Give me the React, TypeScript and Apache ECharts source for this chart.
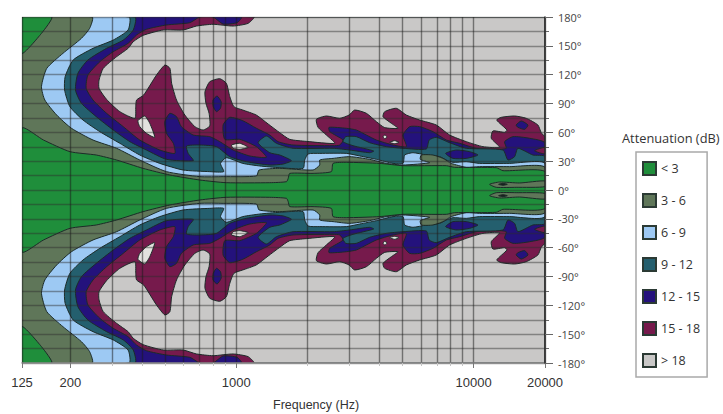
import React, { useEffect, useRef } from "react";
import * as echarts from "echarts";

type Pt = number[];

// Frequency ticks (Hz), angle range and band names
const freqLines = [125, 200, 300, 400, 500, 600, 700, 800, 900, 1000, 2000, 3000, 4000, 5000, 6000, 7000, 8000, 9000, 10000, 20000];
const freqLabels = [125, 200, 1000, 10000, 20000];
const legendOrder = ["< 3", "3 - 6", "6 - 9", "9 - 12", "12 - 15", "15 - 18", "> 18"];

// Contour edges of the upper half [Hz, degrees]; the pattern is mirrored about 0 degrees.
const plotFrame: Pt[] = [[125, 180], [20000, 180], [20000, -180], [125, -180]];

const edge18: Pt[] = [[125, 180], [1186, 180], [1122, 173.4], [970, 170.6], [798, 172.4], [680, 170.6], [597, 166.5], [492, 166.5], [405, 160.9], [368, 154.3], [350, 147.4], [313, 138.7], [275, 126.6], [264, 114.4], [264, 105.8], [284, 94.3], [323, 81.5], [374, 74.6], [377, 86.7], [380, 93.6], [407, 98.8], [461, 119.6], [500, 130], [525, 126.6], [534, 111], [560, 93.6], [607, 78], [669, 65.9], [725, 62.4], [773, 66.6], [768, 79.8], [745, 90.2], [738, 102.3], [773, 112.7], [852, 115.8], [908, 111], [939, 97.1], [977, 86.7], [1065, 83.2], [1214, 78], [1362, 68.7], [1525, 59.6], [1680, 52.7], [1975, 50.6], [2600, 48.6], [2397, 57.2], [2212, 65.2], [2175, 73.5], [2397, 77], [2729, 74.6], [2987, 78], [3155, 83.2], [3533, 79.8], [3894, 71.1], [4221, 64.9], [4803, 64.2], [4503, 69.4], [4153, 76.3], [4221, 81.5], [4727, 85], [5208, 78], [5926, 72.8], [6966, 67.6], [7927, 57.2], [9319, 50.3], [10952, 45.1], [12874, 44.4], [11874, 53.8], [12067, 61.4], [13514, 60], [13820, 62.4], [12520, 72.8], [13084, 75.6], [14889, 77], [16673, 74.6], [18666, 67.6], [19283, 59.6], [20000, 54.8]];

const edge15: Pt[] = [[125, 180], [1051, 180], [1008, 174.1], [880, 172.7], [798, 180], [702, 180], [637, 174.1], [508, 171.7], [418, 167.2], [380, 161.3], [350, 152.6], [303, 143.9], [266, 133.5], [237, 119.6], [233, 105.8], [249, 93.6], [284, 79.8], [334, 65.9], [392, 52], [476, 41.6], [551, 38.1], [543, 48.6], [508, 59], [500, 71.1], [525, 79.8], [560, 76.3], [587, 65.9], [659, 57.2], [773, 55.5], [852, 50.3], [970, 41.6], [1140, 35.4], [1340, 34], [1216, 45.1], [1034, 52.7], [895, 52.7], [880, 67.6], [939, 75.6], [1065, 72.1], [1216, 64.2], [1384, 57.2], [1500, 50.3], [1735, 46.8], [2557, 46.1], [2729, 46.8], [2818, 52], [2476, 60.7], [2460, 65.2], [2911, 64.2], [3207, 62.4], [3533, 57.2], [3894, 52], [4576, 46.8], [5208, 45.1], [5042, 57.2], [5379, 65.9], [5926, 65.9], [6744, 60.7], [7676, 52], [8735, 48.6], [10267, 43.4], [12465, 42.3], [13734, 43.4], [13514, 50.3], [14650, 55.5], [17220, 53.8], [20000, 48.6]];

const edge12: Pt[] = [[125, 180], [374, 180], [368, 166.5], [334, 156], [284, 147.4], [237, 135.3], [215, 121.4], [210, 104], [222.5, 90.2], [257, 76.3], [303, 62.4], [356, 50.3], [418, 41.6], [508, 31.9], [659, 30.5], [627, 38.1], [617, 45.8], [702, 46.8], [825, 45.1], [939, 34.7], [1103, 29.5], [1384, 26], [1575, 27], [1707, 30.5], [1525, 36.4], [1384, 38.8], [1236, 49.2], [1340, 56.2], [1476, 48.6], [1735, 43.4], [2557, 43.4], [3006, 41.6], [3650, 38.8], [3793, 40.6], [3106, 46.1], [2818, 50.3], [2892, 55.5], [3207, 55.5], [3650, 49.2], [4290, 45.1], [5042, 43.4], [6323, 42.7], [6500, 52], [6966, 54.8], [7927, 49.2], [9319, 43.4], [13300, 41.6], [13955, 31.2], [14889, 34.7], [15379, 43.4], [17789, 36.4], [20000, 34.7]];

const edge9: Pt[] = [[125, 180], [353, 180], [350, 166.5], [303, 156], [249, 147.4], [205.5, 135.3], [190, 117.9], [189, 104], [199, 86.7], [226, 72.8], [266, 60.7], [323, 48.6], [392, 36.4], [476, 27.7], [597, 20.8], [773, 19.1], [885, 19.1], [858, 27.7], [908, 33.6], [1065, 27.7], [1256, 25], [1525, 23.2], [1912, 22.5], [1943, 31.2], [2008, 37.5], [2248, 38.1], [2911, 38.1], [3312, 35.4], [3894, 31.9], [4576, 27.7], [5042, 27.7], [5125, 36.4], [5555, 38.8], [6323, 36.4], [7195, 34.7], [7676, 31.2], [8187, 28.8], [9319, 29.5], [10604, 27.7], [14184, 27.7], [20000, 27.7]];

const edge6: Pt[] = [[125, 180], [247, 180], [241, 168.2], [222.5, 157.8], [186, 142.2], [159, 126.6], [151, 107.5], [156, 93.6], [175, 78], [202, 64.2], [249, 52], [313, 43.4], [392, 31.2], [508, 19.1], [702, 13.9], [880, 13.9], [1216, 14.6], [1248, 20.8], [1525, 22.5], [2107, 20.8], [2248, 26], [2248, 31.2], [2557, 32.9], [3006, 34.7], [3650, 31.9], [4290, 27.7], [5042, 26], [6530, 28.4], [5965, 31.9], [6024, 36.4], [6744, 36.4], [7430, 32.9], [8057, 27.7], [9319, 23.6], [10604, 24.3], [14184, 24.3], [20000, 23.6]];

const edge3: Pt[] = [[125, 64.2], [154, 52], [199, 39.9], [257, 36.4], [313, 31.2], [405, 22.5], [525, 15.6], [702, 10.4], [908, 7.6], [1384, 7.6], [1628, 8.7], [1655, 12.1], [1680, 17.3], [2107, 17.3], [2516, 19.1], [2557, 27.7], [2911, 28.8], [4021, 27.7], [5042, 25.3], [7676, 25.3], [8321, 23.6], [12465, 23.2], [13300, 20.1], [20000, 19.1]];

const greenCorner: Pt[] = [[125, 180], [167, 180], [151, 163], [125, 142.2]];

const indigoInCrimsonA: Pt[] = [[798, 93.6], [830, 97.8], [863, 91.9], [858, 85], [825, 81.5], [800, 86.7]];
const indigoInCrimsonB: Pt[] = [[15121, 67.6], [15884, 71.8], [16950, 67.6], [16420, 63.1], [15379, 65.2]];
const indigoInTeal: Pt[] = [[7625, 38.1], [8455, 41.6], [9624, 39.9], [10434, 36.4], [9319, 32.9], [8187, 32.9]];
const crimsonPatch: Pt[] = [[18080, 40.9], [20000, 44.4], [20000, 37.5]];
const holeA: Pt[] = [[385, 72.1], [411, 77], [432, 69.4], [453, 54.8], [418, 59], [392, 65.9]];
const holeB: Pt[] = [[955, 46.8], [1034, 48.6], [1122, 44.4], [1034, 42.3], [970, 43.4]];
const holeC: Pt[] = [[4153, 55.5], [4232, 57.2], [4316, 55.1], [4221, 53.4]];
const holeD: Pt[] = [[4431, 49.6], [4651, 51.3], [4850, 49.6], [4651, 48.2]];
const oliveSliver: Pt[] = [[11684, 5.9], [12874, 8.3], [15629, 7.3], [20000, 9.4], [20000, 3.5], [15121, 2.8], [12465, 2.8]];
const darkDot: Pt[] = [[12750, 5.9], [13300, 6.9], [13870, 5.9], [13300, 4.9]];

const closeBand = (upper: Pt[]): Pt[] => [...upper, ...[...upper].reverse().map(([f, a]) => [f, -a])];
const both = (poly: Pt[]): Pt[][] => [poly, poly.map(([f, a]) => [f, -a])];

const GREEN = "#1f8e3b";
const OLIVE = "#5f7659";
const BLUE = "#9dc9f3";
const TEAL = "#245f6e";
const INDIGO = "#24127c";
const CRIMSON = "#761a4c";
const GRAY = "#c9c8c7";

const layers: { name: string; color: string; polys: Pt[][] }[] = [
  { name: "> 18", color: GRAY, polys: [plotFrame] },
  { name: "15 - 18", color: CRIMSON, polys: [closeBand(edge18)] },
  { name: "gaps", color: "#e4e3e0", polys: [...both(holeA), ...both(holeB), ...both(holeC), ...both(holeD)] },
  { name: "12 - 15", color: INDIGO, polys: [closeBand(edge15), ...both(indigoInCrimsonA), ...both(indigoInCrimsonB)] },
  { name: "15 - 18 patch", color: CRIMSON, polys: both(crimsonPatch) },
  { name: "9 - 12", color: TEAL, polys: [closeBand(edge12)] },
  { name: "12 - 15 patch", color: INDIGO, polys: both(indigoInTeal) },
  { name: "6 - 9", color: BLUE, polys: [closeBand(edge9)] },
  { name: "3 - 6", color: OLIVE, polys: [closeBand(edge6)] },
  { name: "< 3", color: GREEN, polys: [closeBand(edge3), ...both(greenCorner)] },
  { name: "3 - 6 patch", color: OLIVE, polys: both(oliveSliver) },
  { name: "minimum", color: "#16201a", polys: both(darkDot) },
];

const X_MIN = Math.log10(125);
const X_MAX = Math.log10(20000);
const AXIS_FONT = "Liberation Sans";

export default function App() {
  const ref = useRef<HTMLDivElement>(null);
  useEffect(() => {
    const chart = echarts.init(ref.current!, null, { renderer: "svg" });
    chart.setOption({
      animation: false,
      backgroundColor: "#ffffff",
      title: [
        {
          text: "Attenuation (dB)",
          left: 622,
          top: 131,
          padding: 0,
          textStyle: { fontFamily: "Open Sans", fontSize: 12.8, fontWeight: "normal", color: "#333" },
        },
        {
          text: "Frequency (Hz)",
          left: 273,
          top: 398,
          padding: 0,
          textStyle: { fontFamily: AXIS_FONT, fontSize: 12.5, fontWeight: "normal", color: "#333" },
        },
      ],
      legend: {
        orient: "vertical",
        left: 636,
        top: 152,
        padding: [9, 7, 9, 6],
        itemWidth: 13,
        itemHeight: 13,
        itemGap: 17,
        icon: "rect",
        selectedMode: false,
        backgroundColor: "#ffffff",
        borderColor: "#a9a9a9",
        borderWidth: 1.5,
        borderRadius: 0,
        data: legendOrder,
        textStyle: { fontFamily: "Open Sans", fontSize: 12.5, color: "#333", padding: [0, 0, 0, 0] },
      },
      grid: { left: 22, right: 178, top: 17, bottom: 51 },
      xAxis: [
        {
          type: "value",
          position: "bottom",
          min: X_MIN,
          max: X_MAX,
          z: 5,
          axisLine: { show: true, onZero: false, lineStyle: { color: "#8a8a8a", width: 1.5 } },
          axisTick: { show: true, length: 3, lineStyle: { color: "#c4c4c4" }, customValues: freqLines.map(Math.log10) },
          axisLabel: { show: false },
          splitLine: { show: true, lineStyle: { color: "rgba(25,25,25,0.5)", width: 1.4 } },
        },
        {
          type: "value",
          position: "bottom",
          min: X_MIN,
          max: X_MAX,
          z: 5,
          axisLine: { show: false, onZero: false },
          axisTick: { show: true, length: 5, lineStyle: { color: "#777" }, customValues: freqLabels.map(Math.log10) },
          axisLabel: {
            show: true,
            margin: 13,
            fontFamily: AXIS_FONT,
            fontSize: 13,
            color: "#333",
            customValues: freqLabels.map(Math.log10),
            formatter: (v: number) => String(Math.round(Math.pow(10, v))),
          },
          splitLine: { show: false },
        },
      ],
      yAxis: [
        {
          type: "value",
          position: "right",
          min: -180,
          max: 180,
          interval: 15,
          z: 5,
          axisLine: { show: false },
          axisTick: { show: true, length: 4, lineStyle: { color: "#666" } },
          axisLabel: { show: false },
          splitLine: { show: true, lineStyle: { color: "rgba(45,45,45,0.45)", width: 1.4 } },
        },
        {
          type: "value",
          position: "right",
          min: -180,
          max: 180,
          interval: 30,
          z: 6,
          axisLine: { show: true, lineStyle: { color: "#2a2a2a", width: 1.5 } },
          axisTick: { show: true, length: 8, lineStyle: { color: "#666" } },
          axisLabel: {
            show: true,
            margin: 13,
            fontFamily: "Open Sans",
            fontSize: 11,
            color: "#444",
            formatter: (v: number) => `${v}°`,
          },
          splitLine: { show: false },
        },
      ],
      series: layers.map((layer) => ({
        type: "custom",
        name: layer.name,
        xAxisIndex: 0,
        yAxisIndex: 0,
        silent: true,
        clip: true,
        itemStyle: { color: layer.color, borderColor: "#2b3a34", borderWidth: 1 },
        data: layer.polys.map((_, i) => [X_MIN, 0, i]),
        renderItem: (_: unknown, api: any) => {
          const poly = layer.polys[api.value(2)];
          return {
            type: "polygon",
            shape: {
              points: poly.map(([f, a]) => api.coord([Math.log10(f), a])),
              smooth: layer.name === "> 18" ? 0 : 0.2,
            },
            style: { fill: layer.color, stroke: "#1c2b28", lineWidth: 1, lineJoin: "round" },
          };
        },
      })),
    });
    return () => chart.dispose();
  }, []);
  return <div ref={ref} style={{ position: "fixed", left: 0, top: 0, width: 723, height: 414 }} />;
}
